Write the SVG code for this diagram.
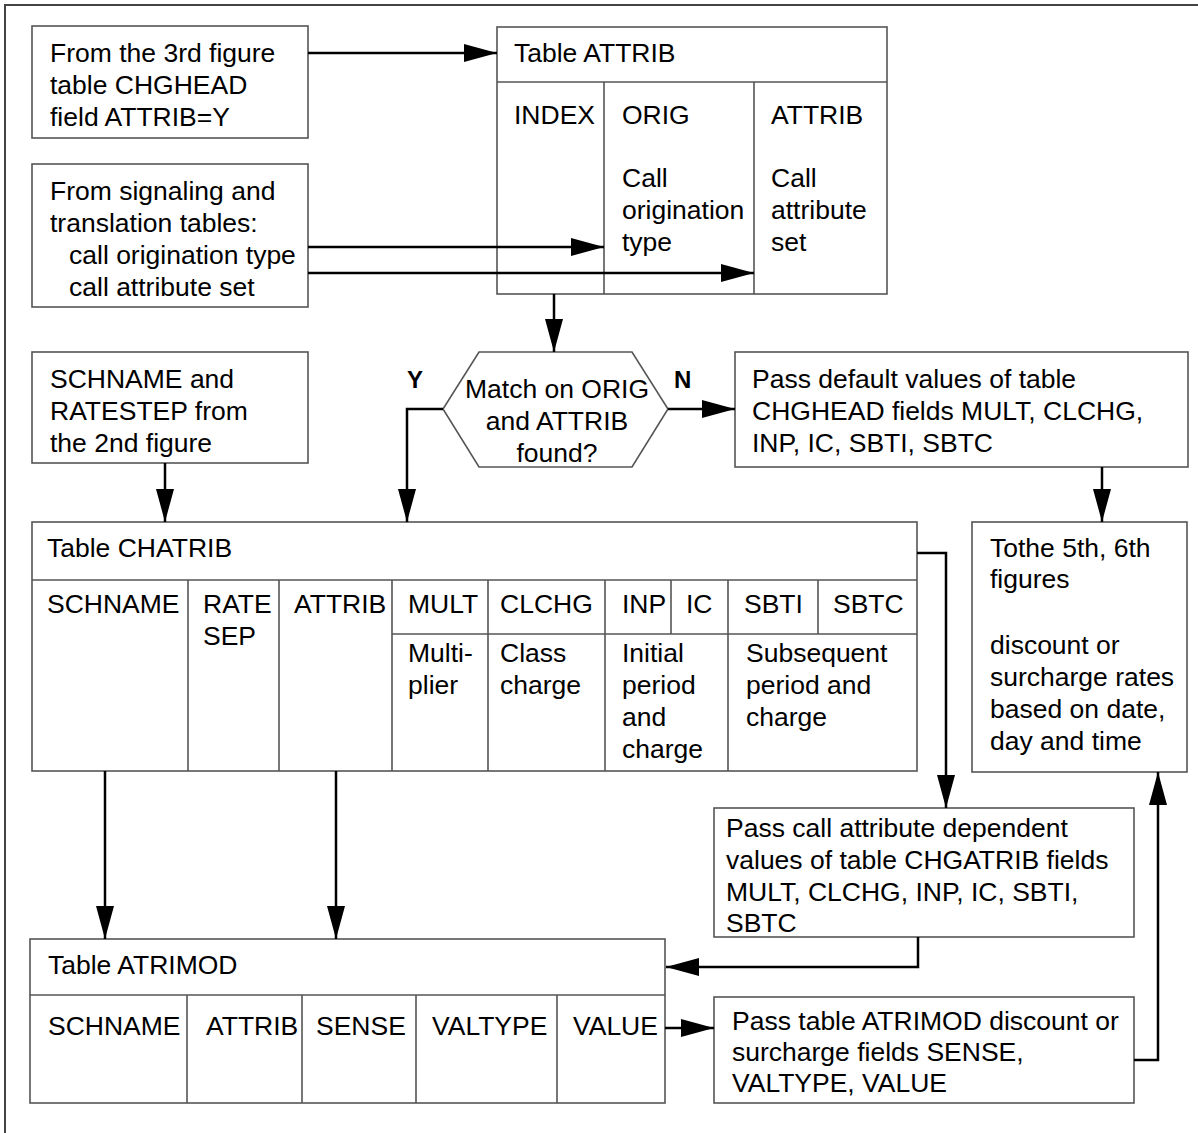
<svg xmlns="http://www.w3.org/2000/svg" width="1198" height="1133" viewBox="0 0 1198 1133">
<style>
.bx{fill:#fff;stroke:#555;stroke-width:1.6}
.ln{fill:none;stroke:#555;stroke-width:1.6}
.c{fill:none;stroke:#000;stroke-width:2.5}
.t{font-family:"Liberation Sans",Arial,sans-serif;font-size:26.5px;fill:#000}
.b{font-family:"Liberation Sans",Arial,sans-serif;font-size:24px;font-weight:bold;fill:#000}
.fr{fill:none;stroke:#444;stroke-width:2}
</style>
<defs>
<marker id="ah" markerUnits="userSpaceOnUse" markerWidth="34" markerHeight="18" refX="33" refY="9" orient="auto">
<path d="M0,0 L33,9 L0,18 z" fill="#000"/>
</marker>
</defs>
<rect width="1198" height="1133" fill="#fff"/>
<g id="frame"><path class="fr" d="M5,1133 L5,5 L1198,5"/></g>

<g id="box-3rd-figure">
<rect class="bx" x="32" y="26" width="276" height="112"/>
<text class="t" x="50" y="62">From the 3rd figure</text>
<text class="t" x="50" y="94">table CHGHEAD</text>
<text class="t" x="50" y="126">field ATTRIB=Y</text>
</g>

<g id="box-signaling">
<rect class="bx" x="32" y="164" width="276" height="143"/>
<text class="t" x="50" y="200">From signaling and</text>
<text class="t" x="50" y="232">translation tables:</text>
<text class="t" x="69" y="264">call origination type</text>
<text class="t" x="69" y="296">call attribute set</text>
</g>

<g id="table-attrib">
<rect class="bx" x="497" y="27" width="390" height="267"/>
<path class="ln" d="M497,82 H887 M604,82 V294 M754,82 V294"/>
<text class="t" x="514" y="62">Table ATTRIB</text>
<text class="t" x="514" y="124">INDEX</text>
<text class="t" x="622" y="124">ORIG</text>
<text class="t" x="771" y="124">ATTRIB</text>
<text class="t" x="622" y="187">Call</text>
<text class="t" x="622" y="219">origination</text>
<text class="t" x="622" y="251">type</text>
<text class="t" x="771" y="187">Call</text>
<text class="t" x="771" y="219">attribute</text>
<text class="t" x="771" y="251">set</text>
</g>

<g id="box-schname">
<rect class="bx" x="32" y="352" width="276" height="111"/>
<text class="t" x="50" y="388">SCHNAME and</text>
<text class="t" x="50" y="420">RATESTEP from</text>
<text class="t" x="50" y="452">the 2nd figure</text>
</g>

<g id="decision">
<polygon class="bx" points="479,352 632,352 668,409 632,467 479,467 443,409"/>
<text class="t" x="557" y="398" text-anchor="middle">Match on ORIG</text>
<text class="t" x="557" y="430" text-anchor="middle">and ATTRIB</text>
<text class="t" x="557" y="462" text-anchor="middle">found?</text>
<text class="b" x="407" y="388">Y</text>
<text class="b" x="674" y="388">N</text>
</g>

<g id="box-default">
<rect class="bx" x="735" y="352" width="453" height="115"/>
<text class="t" x="752" y="388">Pass default values of table</text>
<text class="t" x="752" y="420">CHGHEAD fields MULT, CLCHG,</text>
<text class="t" x="752" y="452">INP, IC, SBTI, SBTC</text>
</g>

<g id="table-chatrib">
<rect class="bx" x="32" y="522" width="885" height="249"/>
<path class="ln" d="M32,580 H917 M392,634 H917 M188,580 V771 M279,580 V771 M392,580 V771 M488,580 V771 M605,580 V771 M671,580 V634 M728,580 V771 M818,580 V634"/>
<text class="t" x="47" y="557">Table CHATRIB</text>
<text class="t" x="47" y="613">SCHNAME</text>
<text class="t" x="203" y="613">RATE</text>
<text class="t" x="203" y="645">SEP</text>
<text class="t" x="294" y="613">ATTRIB</text>
<text class="t" x="408" y="613">MULT</text>
<text class="t" x="500" y="613">CLCHG</text>
<text class="t" x="622" y="613">INP</text>
<text class="t" x="686" y="613">IC</text>
<text class="t" x="744" y="613">SBTI</text>
<text class="t" x="833" y="613">SBTC</text>
<text class="t" x="408" y="662">Multi-</text>
<text class="t" x="408" y="694">plier</text>
<text class="t" x="500" y="662">Class</text>
<text class="t" x="500" y="694">charge</text>
<text class="t" x="622" y="662">Initial</text>
<text class="t" x="622" y="694">period</text>
<text class="t" x="622" y="726">and</text>
<text class="t" x="622" y="758">charge</text>
<text class="t" x="746" y="662">Subsequent</text>
<text class="t" x="746" y="694">period and</text>
<text class="t" x="746" y="726">charge</text>
</g>

<g id="box-tothe">
<rect class="bx" x="972" y="522" width="215" height="250"/>
<text class="t" x="990" y="557">Tothe 5th, 6th</text>
<text class="t" x="990" y="588">figures</text>
<text class="t" x="990" y="654">discount or</text>
<text class="t" x="990" y="686">surcharge rates</text>
<text class="t" x="990" y="718">based on date,</text>
<text class="t" x="990" y="750">day and time</text>
</g>

<g id="box-pass-call">
<rect class="bx" x="714" y="808" width="420" height="129"/>
<text class="t" x="726" y="837">Pass call attribute dependent</text>
<text class="t" x="726" y="869">values of table CHGATRIB fields</text>
<text class="t" x="726" y="901">MULT, CLCHG, INP, IC, SBTI,</text>
<text class="t" x="726" y="932">SBTC</text>
</g>

<g id="table-atrimod">
<rect class="bx" x="30" y="939" width="635" height="164"/>
<path class="ln" d="M30,995 H665 M187,995 V1103 M302,995 V1103 M416,995 V1103 M557,995 V1103"/>
<text class="t" x="48" y="974">Table ATRIMOD</text>
<text class="t" x="48" y="1035">SCHNAME</text>
<text class="t" x="206" y="1035">ATTRIB</text>
<text class="t" x="316" y="1035">SENSE</text>
<text class="t" x="432" y="1035">VALTYPE</text>
<text class="t" x="573" y="1035">VALUE</text>
</g>

<g id="box-pass-table">
<rect class="bx" x="714" y="997" width="420" height="106"/>
<text class="t" x="732" y="1030">Pass table ATRIMOD discount or</text>
<text class="t" x="732" y="1061">surcharge fields SENSE,</text>
<text class="t" x="732" y="1092">VALTYPE, VALUE</text>
</g>

<g id="connectors">
<path class="c" marker-end="url(#ah)" d="M308,53 H497"/>
<path class="c" marker-end="url(#ah)" d="M308,247 H604"/>
<path class="c" marker-end="url(#ah)" d="M308,273 H754"/>
<path class="c" marker-end="url(#ah)" d="M554,294 V352"/>
<path class="c" marker-end="url(#ah)" d="M443,409 H407 V522"/>
<path class="c" marker-end="url(#ah)" d="M668,409 H735"/>
<path class="c" marker-end="url(#ah)" d="M1102,467 V522"/>
<path class="c" marker-end="url(#ah)" d="M165,463 V522"/>
<path class="c" marker-end="url(#ah)" d="M917,553 H946 V808"/>
<path class="c" marker-end="url(#ah)" d="M918,937 V967 H666"/>
<path class="c" marker-end="url(#ah)" d="M105,771 V939"/>
<path class="c" marker-end="url(#ah)" d="M336,771 V939"/>
<path class="c" marker-end="url(#ah)" d="M665,1028 H714"/>
<path class="c" marker-end="url(#ah)" d="M1134,1060 H1158 V772"/>
</g>
</svg>
